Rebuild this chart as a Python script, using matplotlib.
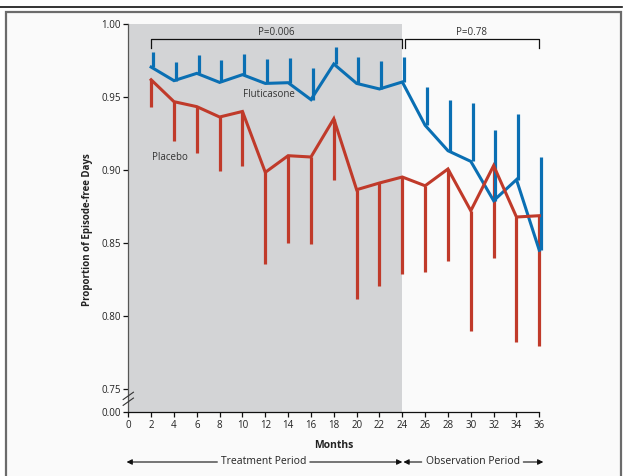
import numpy as np
import matplotlib
matplotlib.use("Agg")
import matplotlib.pyplot as plt
from matplotlib.patches import Rectangle
from matplotlib.lines import Line2D

plt.rcParams["font.family"] = ["Open Sans", "DejaVu Sans"]

# --- dati --------------------------------------------------------------------
months = [2, 4, 6, 8, 10, 12, 14, 16, 18, 20, 22, 24, 26, 28, 30, 32, 34, 36]
flut_mean = [0.9705, 0.9612, 0.9662, 0.9600, 0.9653, 0.9593, 0.9598, 0.9482, 0.9726,
             0.9593, 0.9555, 0.9603, 0.9306, 0.9132, 0.9059, 0.8790, 0.8934, 0.8450]
flut_upper = [0.9806, 0.9742, 0.9790, 0.9755, 0.9797, 0.9760, 0.9767, 0.9699, 0.9842,
              0.9772, 0.9749, 0.9772, 0.9568, 0.9482, 0.9459, 0.9271, 0.9382, 0.9091]
plac_mean = [0.9618, 0.9468, 0.9434, 0.9363, 0.9401, 0.8984, 0.9098, 0.9089, 0.9351,
             0.8865, 0.8911, 0.8952, 0.8892, 0.9007, 0.8721, 0.9030, 0.8678, 0.8687]
plac_lower = [0.9429, 0.9196, 0.9116, 0.8990, 0.9030, 0.8358, 0.8502, 0.8493, 0.8934,
              0.8118, 0.8208, 0.8290, 0.8299, 0.8374, 0.7900, 0.8395, 0.7824, 0.7792]

y_ticks = [0.75, 0.80, 0.85, 0.90, 0.95, 1.00]
x_ticks = list(range(0, 37, 2))
treatment_end = 24
p_values = [("P=0.006", 2, 24), ("P=0.78", 24.2, 36)]

# asse spezzato: lo 0.00 sta appena sotto lo 0.75
y_bottom = 0.75 - 23 / 1460

BLUE = "#0a6fb3"
RED = "#c03a2a"
TXT = "#222222"

fig = plt.figure(figsize=(6.23, 4.76), dpi=100, facecolor="white")
# cornice della figura
fig.add_artist(Line2D([0, 622 / 623], [1 - 7 / 476] * 2, color="#111111", lw=1.2,
                      transform=fig.transFigure))
fig.add_artist(Rectangle((6 / 623, -0.01), 615 / 623, 1 - 12 / 476 + 0.01,
                         transform=fig.transFigure, facecolor="#fafafa",
                         edgecolor="#6b6b6b", lw=1.6, zorder=-10))

ax = fig.add_axes([128.3 / 623, 1 - 412 / 476, 411 / 623, 388 / 476])
ax.set_facecolor("none")
ax.axvspan(0, treatment_end, color="#d3d4d6", zorder=0, lw=0)

ax.vlines(months, plac_lower, plac_mean, color=RED, lw=2.3, zorder=3, clip_on=False)
ax.plot(months, plac_mean, color=RED, lw=2.2, zorder=4, solid_joinstyle="miter", clip_on=False)
ax.vlines(np.array(months) + 0.15, flut_mean, flut_upper, color=BLUE, lw=2.3, zorder=3,
          clip_on=False)
ax.plot(months, flut_mean, color=BLUE, lw=2.2, zorder=3, solid_joinstyle="miter", clip_on=False)

ax.text(10.05, 0.952, "Fluticasone", fontsize=7, color="#333333", va="center", zorder=5)
ax.text(2.1, 0.9089, "Placebo", fontsize=7, color="#333333", va="center", zorder=5)

# parentesi con i P
for label, x0, x1 in p_values:
    ax.plot([x0, x0, x1, x1], [0.9836, 0.9897, 0.9897, 0.9836], color="#111111", lw=0.9,
            zorder=5, clip_on=False)
    ax.text((x0 + x1) / 2, 0.9905, label, ha="center", va="bottom", fontsize=7, color="#333333")

ax.set_xlim(0, 36)
ax.set_ylim(y_bottom, 1.0)
ax.set_xticks(x_ticks)
ax.set_yticks([y_bottom] + y_ticks)
ax.set_yticklabels(["0.00"] + [f"{v:.2f}" for v in y_ticks])
ax.tick_params(axis="both", labelsize=7, colors="#111111", labelcolor=TXT,
               length=3.5, width=0.9, pad=2)
for s in ["top", "right"]:
    ax.spines[s].set_visible(False)
ax.spines["left"].set_color("#555555")
ax.spines["bottom"].set_color("#111111")
ax.spines["left"].set_linewidth(0.9)
ax.spines["bottom"].set_linewidth(0.9)

# segno di interruzione dell'asse
for dy in (0.0, 0.004):
    ax.plot([-0.45, 0.45], [0.7388 + dy, 0.7438 + dy], color="#333333", lw=0.8,
            clip_on=False, zorder=6)

ax.set_ylabel("Proportion of Episode-free Days", fontsize=7, fontweight="bold", color=TXT)
ax.yaxis.set_label_coords(-0.087, 0.47)
ax.set_xlabel("Months", fontsize=7.5, fontweight="bold", color=TXT, labelpad=7)

# frecce dei periodi
yarr = 14 / 476
ap = dict(arrowstyle="-|>", color="#111111", lw=0.8, mutation_scale=8, shrinkA=0, shrinkB=0)
tc = ("data", "figure fraction")
ax.annotate("", xy=(-0.15, yarr), xytext=(7.8, yarr), xycoords=tc, textcoords=tc, arrowprops=ap)
ax.annotate("", xy=(24.0, yarr), xytext=(15.9, yarr), xycoords=tc, textcoords=tc, arrowprops=ap)
ax.annotate("Treatment Period", xy=(11.85, yarr), xycoords=tc, ha="center", va="center",
            fontsize=7.5, color=TXT)
ax.annotate("", xy=(24.1, yarr), xytext=(25.7, yarr), xycoords=tc, textcoords=tc, arrowprops=ap)
ax.annotate("", xy=(36.35, yarr), xytext=(34.6, yarr), xycoords=tc, textcoords=tc, arrowprops=ap)
ax.annotate("Observation Period", xy=(30.15, yarr), xycoords=tc, ha="center", va="center",
            fontsize=7.5, color=TXT)

fig.savefig("out.png", dpi=100, facecolor=fig.get_facecolor())
